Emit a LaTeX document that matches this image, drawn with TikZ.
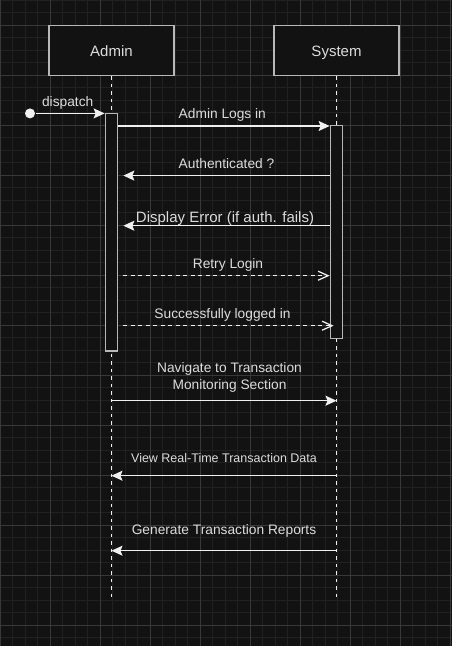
\documentclass[tikz,border=0pt]{standalone}
\usepackage{fontspec}
\setmainfont{Liberation Sans}
\usetikzlibrary{arrows.meta}
\definecolor{bgcol}{HTML}{121212}
\definecolor{gridminor}{HTML}{212121}
\definecolor{gridmajor}{HTML}{383838}
\definecolor{boxline}{HTML}{B8B8B8}
\definecolor{txtcol}{HTML}{DCDCDC}
\definecolor{linecol}{HTML}{F0F0F0}

\begin{document}
\begin{tikzpicture}[x=1pt,y=-1pt,line width=1.25pt,
  >={Stealth[length=11pt,width=10pt,inset=2pt]},
  lifebox/.style={draw=boxline,fill=bgcol,text=txtcol,minimum width=125pt,minimum height=50pt,
    inner sep=0pt,text height=11pt,text depth=0pt,font=\fontsize{15}{18}\selectfont},
  actbar/.style={draw=boxline,fill=bgcol,minimum width=12.5pt,inner sep=0pt},
  lifeline/.style={draw=linecol,dash pattern=on 3.75pt off 3.75pt},
  msg/.style={draw=linecol,->},
  reply/.style={draw=linecol,dash pattern=on 3.75pt off 3.75pt,
    -{Straight Barb[length=10pt,width=9pt]}},
  lbl/.style={text=txtcol,font=\fontsize{13.75}{16.7}\selectfont,anchor=base,inner sep=0pt}]
% ---------- 背景与网格 ----------
% 像素坐标：原点左上，y 向下；细网格 12.5，粗网格 50
\fill[bgcol] (0,0) rectangle (452,646);
\useasboundingbox (0,0) rectangle (452,646);
\foreach \i in {0,1,...,36}
  \draw[gridminor,line width=0.8pt] (\i*12.5,0) -- (\i*12.5,646);
\foreach \j in {0,1,...,51}
  \draw[gridminor,line width=0.8pt] (0,\j*12.5) -- (452,\j*12.5);
\foreach \i in {0,1,...,9}
  \draw[gridmajor,line width=0.8pt] (\i*50,0) -- (\i*50,646);
\foreach \j in {0,1,...,12}
  \draw[gridmajor,line width=0.8pt] (0,25+\j*50) -- (452,25+\j*50);
% ---------- 生命线 ----------
\node[lifebox] (admin) at (111.5,50.5) {Admin};
\node[lifebox] (system) at (336.5,50.5) {System};
\coordinate (adminend) at (111.5,597);
\coordinate (systemend) at (336.5,597);
\draw[lifeline] (admin.south) -- (adminend);
\draw[lifeline] (system.south) -- (systemend);
% 激活条（盖住虚线）
\node[actbar,minimum height=237.5pt] (adminact) at (111.5,232.2) {};
\node[actbar,minimum height=212.5pt] (systemact) at (336.5,232) {};
% ---------- 消息 ----------
\node[circle,fill=linecol,minimum size=10pt,inner sep=0pt] (start) at (30,113.4) {};
\draw[msg] (start) -- (start -| adminact.west);
\node[lbl] (ldispatch) at (67.7,106) {dispatch};
\draw[msg] (adminact.east |- 0,126) -- (systemact.west |- 0,126);
\node[lbl] (llogin) at (222.3,118.3) {Admin Logs in};
\draw[msg] (systemact.west |- 0,175.6) -- ([xshift=5pt]adminact.east |- 0,175.6);
\node[lbl] (lauth) at (226.5,168.3) {Authenticated ?};
\draw[msg] (systemact.west |- 0,225.7) -- ([xshift=5pt]adminact.east |- 0,225.7);
\node[lbl,font=\fontsize{15}{18}\selectfont] (lerror) at (225,222.3) {Display Error (if auth. fails)};
% 虚线回应
\draw[reply] ([xshift=5pt]adminact.east |- 0,275.7) -- (systemact.west |- 0,275.7);
\node[lbl] (lretry) at (228,268.3) {Retry Login};
\draw[reply] ([xshift=5pt]adminact.east |- 0,325.7) -- ([xshift=4pt]systemact.west |- 0,325.7);
\node[lbl] (lsuccess) at (222.5,318.3) {Successfully logged in};
% 激活条以下（两行标签的 base 在末行）
\draw[msg] (adminend |- 0,400.7) -- (systemend |- 0,400.7);
\node[lbl,align=center] (lnav) at (229.5,389) {Navigate to Transaction\\Monitoring Section};
\draw[msg] (systemend |- 0,475.7) -- (adminend |- 0,475.7);
\node[lbl,font=\fontsize{12.5}{15}\selectfont] (lview) at (224,462.3) {View Real-Time Transaction Data};
\draw[msg] (systemend |- 0,550.7) -- (adminend |- 0,550.7);
\node[lbl] (lreport) at (224,534.3) {Generate Transaction Reports};
\end{tikzpicture}
\end{document}
